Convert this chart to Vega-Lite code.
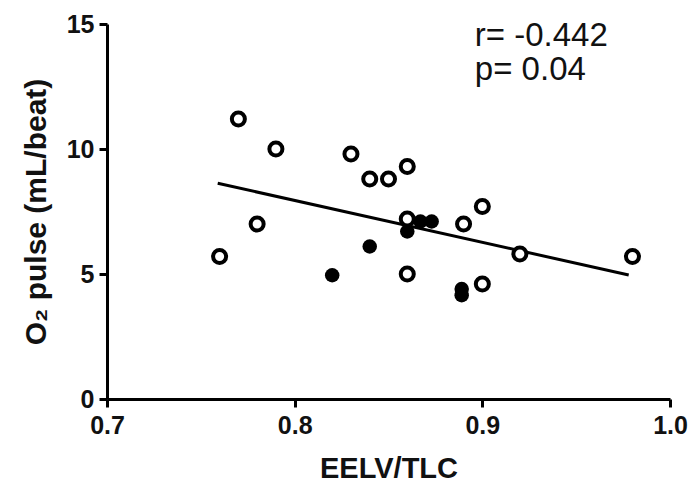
{
  "$schema": "https://vega.github.io/schema/vega-lite/v6.json",
  "width": 563,
  "height": 375,
  "autosize": {"type": "none"},
  "padding": {"left": 107, "top": 24, "right": 21, "bottom": 88},
  "background": "white",
  "config": {
    "view": {"stroke": null},
    "font": "Liberation Sans",
    "axis": {
      "domainColor": "black",
      "domainWidth": 3,
      "tickColor": "black",
      "tickWidth": 3,
      "tickSize": 8,
      "grid": false,
      "labelFont": "Liberation Sans",
      "labelFontSize": 25,
      "labelFontWeight": "bold",
      "labelColor": "#111",
      "titleFont": "Liberation Sans",
      "titleFontSize": 29,
      "titleFontWeight": "bold",
      "titleColor": "#111"
    }
  },
  "datasets": {
    "pts": [
      {"eelv_tlc": 0.77, "o2pulse": 11.2, "group": "open"},
      {"eelv_tlc": 0.79, "o2pulse": 10.0, "group": "open"},
      {"eelv_tlc": 0.83, "o2pulse": 9.8, "group": "open"},
      {"eelv_tlc": 0.84, "o2pulse": 8.8, "group": "open"},
      {"eelv_tlc": 0.85, "o2pulse": 8.8, "group": "open"},
      {"eelv_tlc": 0.86, "o2pulse": 9.3, "group": "open"},
      {"eelv_tlc": 0.90, "o2pulse": 7.7, "group": "open"},
      {"eelv_tlc": 0.78, "o2pulse": 7.0, "group": "open"},
      {"eelv_tlc": 0.86, "o2pulse": 7.2, "group": "open"},
      {"eelv_tlc": 0.89, "o2pulse": 7.0, "group": "open"},
      {"eelv_tlc": 0.76, "o2pulse": 5.7, "group": "open"},
      {"eelv_tlc": 0.92, "o2pulse": 5.8, "group": "open"},
      {"eelv_tlc": 0.98, "o2pulse": 5.7, "group": "open"},
      {"eelv_tlc": 0.86, "o2pulse": 5.0, "group": "open"},
      {"eelv_tlc": 0.90, "o2pulse": 4.6, "group": "open"},
      {"eelv_tlc": 0.867, "o2pulse": 7.1, "group": "filled"},
      {"eelv_tlc": 0.873, "o2pulse": 7.1, "group": "filled"},
      {"eelv_tlc": 0.86, "o2pulse": 6.7, "group": "filled"},
      {"eelv_tlc": 0.84, "o2pulse": 6.1, "group": "filled"},
      {"eelv_tlc": 0.82, "o2pulse": 4.95, "group": "filled"},
      {"eelv_tlc": 0.889, "o2pulse": 4.4, "group": "filled"},
      {"eelv_tlc": 0.889, "o2pulse": 4.15, "group": "filled"}
    ],
    "fit": [
      {"eelv_tlc": 0.759, "o2pulse": 8.63},
      {"eelv_tlc": 0.978, "o2pulse": 4.96}
    ],
    "stats": [
      {"label": "r= -0.442", "eelv_tlc": 0.896, "o2pulse": 14.12},
      {"label": "p= 0.04", "eelv_tlc": 0.896, "o2pulse": 12.76}
    ]
  },
  "encoding": {
    "x": {
      "field": "eelv_tlc", "type": "quantitative",
      "scale": {"domain": [0.7, 1.0], "nice": false, "zero": false},
      "axis": {"values": [0.7, 0.8, 0.9, 1.0], "format": ".1f", "title": "EELV/TLC", "labelPadding": 6, "titlePadding": 16, "labelFlush": false}
    },
    "y": {
      "field": "o2pulse", "type": "quantitative",
      "scale": {"domain": [0, 15], "nice": false},
      "axis": {"values": [0, 5, 10, 15], "title": "O₂ pulse (mL/beat)", "titleFontSize": 30, "labelPadding": 5, "titlePadding": 15, "labelFlush": false}
    }
  },
  "layer": [
    {
      "data": {"name": "fit"},
      "mark": {"type": "line", "color": "black", "strokeWidth": 3}
    },
    {
      "data": {"name": "pts"},
      "transform": [{"filter": "datum.group === 'open'"}],
      "mark": {"type": "point", "shape": "circle", "filled": false, "fill": "white", "fillOpacity": 1, "stroke": "black", "strokeWidth": 4, "size": 170, "opacity": 1}
    },
    {
      "data": {"name": "pts"},
      "transform": [{"filter": "datum.group === 'filled'"}],
      "mark": {"type": "point", "shape": "circle", "filled": true, "color": "black", "size": 210, "opacity": 1}
    },
    {
      "data": {"name": "stats"},
      "mark": {"type": "text", "align": "left", "baseline": "alphabetic", "fontSize": 33, "font": "Liberation Sans", "color": "#111"},
      "encoding": {"text": {"field": "label"}}
    }
  ]
}
